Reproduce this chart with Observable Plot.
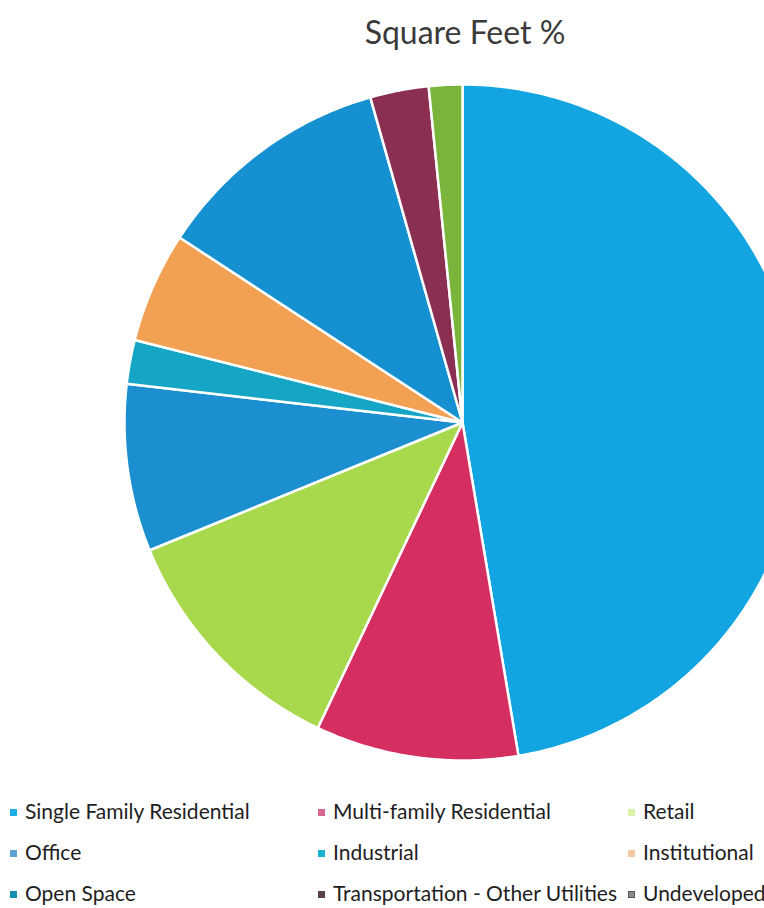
<!DOCTYPE html>
<html>
<head>
<meta charset="utf-8">
<script src="https://cdn.jsdelivr.net/npm/d3@7"></script>
<script src="https://cdn.jsdelivr.net/npm/@observablehq/plot@0.6"></script>
<style>
  html, body { margin: 0; padding: 0; background: #fff; width: 764px; height: 908px; overflow: hidden; }
  #title { height: 60px; text-align: center; font-family: Lato, "Open Sans", sans-serif; font-size: 32px; color: #3a3a3a; line-height: 64px; padding-left: 166px; box-sizing: border-box; }
  #chart { height: 720px; }
  #legend { position: absolute; top: 800px; left: 0; width: 764px; font-family: Lato, "Open Sans", sans-serif; font-size: 21px; line-height: 22px; color: #1e1e1e; }
  .item { position: absolute; white-space: nowrap; }
  .sw { display: inline-block; width: 7px; height: 7px; margin-right: 8px; vertical-align: middle; position: relative; top: -1px; }
</style>
</head>
<body>
<div id="title">Square Feet %</div>
<div id="chart"></div>
<div id="legend"></div>
<script>
const categories = ["Single Family Residential","Multi-family Residential","Retail","Office","Industrial","Institutional","Open Space","Transportation - Other Utilities","Undeveloped"];
const values = [47.4, 9.7, 11.8, 8.0, 2.1, 5.3, 11.4, 2.8, 1.6];
const sliceColors = ["#12a5e2","#d52f62","#a8d94c","#1b8fcf","#14a6c4","#f2a052","#1591d2","#8b2f52","#79b53a"];
const legendColors = ["#1aaee6","#d8678f","#dcf2a8","#5ea3d2","#1ab2d2","#f7c9a2","#1490b4","#5e4250","#8a8a8a"];

const W = 764, H = 720, cx = 462, cy = 362, R = 338;
const pie = d3.pie().sort(null)(values);
const pts = [];
pie.forEach((p, i) => {
  const name = categories[i];
  pts.push({name, x: 0, y: 0});
  const n = Math.max(4, Math.ceil((p.endAngle - p.startAngle) / 0.01));
  for (let k = 0; k <= n; k++) {
    const a = p.startAngle + (p.endAngle - p.startAngle) * k / n;
    pts.push({name, x: Math.sin(a), y: Math.cos(a)});
  }
  pts.push({name, x: 0, y: 0});
});

const chart = Plot.plot({
  width: W, height: H, margin: 0,
  x: {domain: [-cx / R, (W - cx) / R], axis: null},
  y: {domain: [-(H - cy) / R, cy / R], axis: null},
  color: {domain: categories, range: sliceColors},
  marks: [
    Plot.line(pts, {x: "x", y: "y", z: "name", fill: "name", stroke: "white", strokeWidth: 2.5, strokeLinejoin: "round"})
  ]
});
document.getElementById("chart").appendChild(chart);

const lx = [10, 318, 628], ly = [0, 41, 82];
const legend = document.getElementById("legend");
categories.forEach((c, i) => {
  const d = document.createElement("div");
  d.className = "item";
  d.style.left = lx[i % 3] + "px";
  d.style.top = ly[Math.floor(i / 3)] + "px";
  const s = document.createElement("span");
  s.className = "sw";
  s.style.background = legendColors[i];
  if (i === 8) { s.style.border = "1px solid #555"; s.style.width = "5px"; s.style.height = "5px"; }
  d.appendChild(s);
  d.appendChild(document.createTextNode(c));
  legend.appendChild(d);
});
</script>
</body>
</html>
